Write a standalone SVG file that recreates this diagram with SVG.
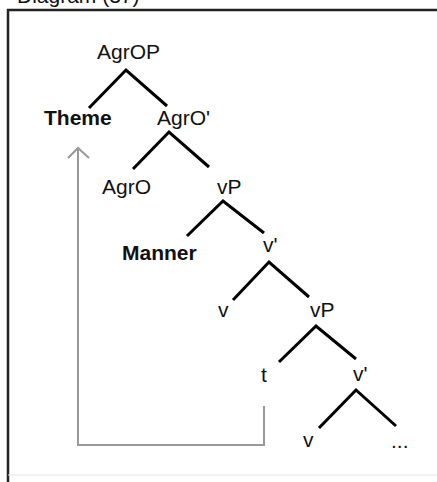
<svg xmlns="http://www.w3.org/2000/svg" width="437" height="482" viewBox="0 0 437 482">
<defs>
<style>
.lbl{font-family:"Liberation Sans",Arial,sans-serif;font-size:21px;fill:#111}
.b{font-weight:bold}
.edge{stroke:#000;stroke-width:3;fill:none;stroke-linecap:butt}
.move{stroke:#999;stroke-width:2;fill:none}
</style>
<marker id="open" viewBox="0 0 24 12" refX="12" refY="1" markerWidth="24" markerHeight="12" markerUnits="userSpaceOnUse" orient="auto-start-reverse">
<path d="M1,11 L12,1 L23,11" fill="none" stroke="#999" stroke-width="2"/>
</marker>
</defs>
<rect width="437" height="482" fill="#fff"/>
<text class="lbl" x="17" y="3" font-size="21">Diagram (37)</text>
<path d="M8,482 V10 H437" fill="none" stroke="#222" stroke-width="2.5"/>
<line x1="8" y1="475" x2="437" y2="475" stroke="#e4e4e4" stroke-width="1"/>
<g id="connectors">
<polyline class="edge" points="89,108 126,70 167,106"/>
<polyline class="edge" points="133,169 169,132 209,167"/>
<polyline class="edge" points="187,236 223,201 264,233"/>
<polyline class="edge" points="233,300 269,262 309,297"/>
<polyline class="edge" points="279,362 316,326 356,359"/>
<polyline class="edge" points="319,428 356,390 396,426"/>
<polyline class="move" points="264,406 264,445 78,445 78,148"/>
<path d="M68,158 L78,148 L89,158" fill="none" stroke="#999" stroke-width="2"/>
</g>
<g id="n-AgrOP"><text class="lbl" x="97" y="59">AgrOP</text></g>
<g id="n-Theme"><text class="lbl b" x="44" y="125">Theme</text></g>
<g id="n-AgrO1"><text class="lbl" x="157" y="125">AgrO'</text></g>
<g id="n-AgrO"><text class="lbl" x="102" y="194">AgrO</text></g>
<g id="n-vP1"><text class="lbl" x="217" y="194">vP</text></g>
<g id="n-Manner"><text class="lbl b" x="122" y="260">Manner</text></g>
<g id="n-v1bar"><text class="lbl" x="263" y="252">v'</text></g>
<g id="n-v1"><text class="lbl" x="218" y="317">v</text></g>
<g id="n-vP2"><text class="lbl" x="310" y="317">vP</text></g>
<g id="n-t"><text class="lbl" x="261" y="382">t</text></g>
<g id="n-v2bar"><text class="lbl" x="353" y="381">v'</text></g>
<g id="n-v2"><text class="lbl" x="303" y="447">v</text></g>
<g id="n-dots"><text class="lbl" x="391" y="448">...</text></g>
</svg>
